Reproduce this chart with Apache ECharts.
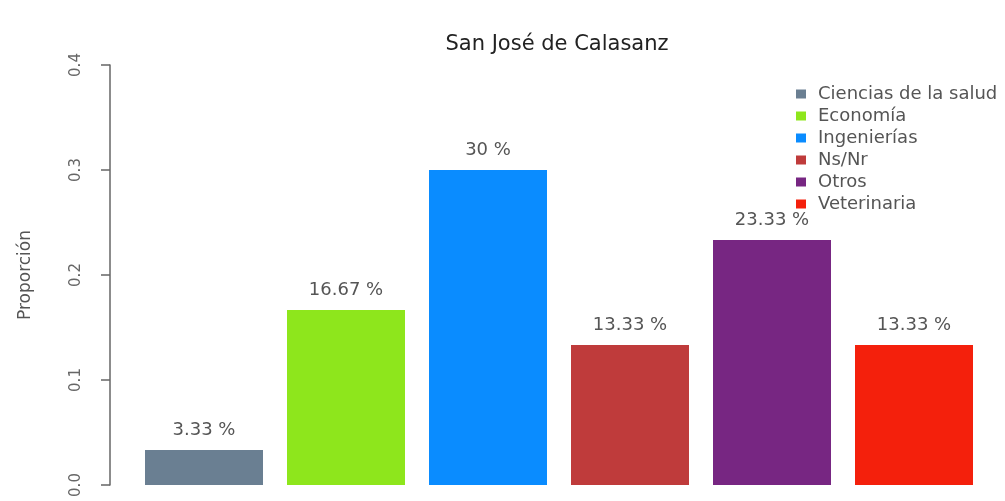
<!DOCTYPE html>
<html lang="es">
  <head>
    <meta charset="UTF-8" />
    <title>San José de Calasanz</title>
    <script src="https://cdn.jsdelivr.net/npm/echarts@6/dist/echarts.min.js"></script>
    <style>
      html, body { margin: 0; padding: 0; background: #fff; }
      #chart { width: 1005px; height: 501px; }
    </style>
  </head>
  <body>
    <div id="chart"></div>
  </body>
</html>
<script>
  // datos
  const categories = ["Ciencias de la salud", "Economía", "Ingenierías", "Ns/Nr", "Otros", "Veterinaria"];
  const values = [0.0333, 0.1667, 0.3, 0.1333, 0.2333, 0.1333];
  const pctLabels = ["3.33 %", "16.67 %", "30 %", "13.33 %", "23.33 %", "13.33 %"];
  const colors = ["#6a7f92", "#8ee61c", "#0a8cff", "#bf3b3b", "#772682", "#f4200c"];
  const yTicks = [0, 0.1, 0.2, 0.3, 0.4];

  const font = "DejaVu Sans";
  const chart = echarts.init(document.getElementById("chart"));

  // una serie por categoría para que la leyenda muestre cada una
  const series = categories.map((name, i) => ({
    name: name,
    type: "bar",
    stack: "all",
    barWidth: 118,
    itemStyle: { color: colors[i] },
    label: {
      show: true,
      position: "top",
      distance: 11,
      color: "#555",
      fontFamily: font,
      fontSize: 18,
      formatter: () => pctLabels[i],
    },
    data: values.map((v, j) => (j === i ? v : "-")),
  }));

  const option = {
    animation: false,
    title: {
      text: "San José de Calasanz",
      left: 552,
      top: 29,
      textAlign: "center",
      textStyle: { fontFamily: font, fontSize: 21, fontWeight: "normal", color: "#222" },
    },
    legend: {
      orient: "vertical",
      left: 791,
      top: 80,
      itemWidth: 10,
      itemHeight: 9,
      itemGap: 4,
      icon: "rect",
      textStyle: { fontFamily: font, fontSize: 18, color: "#555", padding: [0, 0, 0, 7], lineHeight: 18 },
      data: categories,
    },
    grid: { left: 133, right: 20, top: 65, bottom: 16 },
    xAxis: {
      type: "category",
      data: categories,
      axisLine: { show: false },
      axisTick: { show: false },
      axisLabel: { show: false },
    },
    yAxis: {
      type: "value",
      min: yTicks[0],
      max: yTicks[yTicks.length - 1],
      interval: 0.1,
      offset: 23,
      name: "Proporción",
      nameLocation: "middle",
      nameGap: 76,
      nameRotate: 90,
      nameTextStyle: { fontFamily: font, fontSize: 17, color: "#555" },
      axisLine: { show: true, lineStyle: { color: "#666", width: 1.5 } },
      axisTick: { show: true, length: 9, lineStyle: { color: "#666", width: 1.5 } },
      splitLine: { show: false },
      axisLabel: {
        rotate: 90,
        margin: 26,
        color: "#666",
        fontFamily: font,
        fontSize: 15,
        formatter: (v) => v.toFixed(1),
      },
    },
    series: series,
  };
  chart.setOption(option);
</script>
